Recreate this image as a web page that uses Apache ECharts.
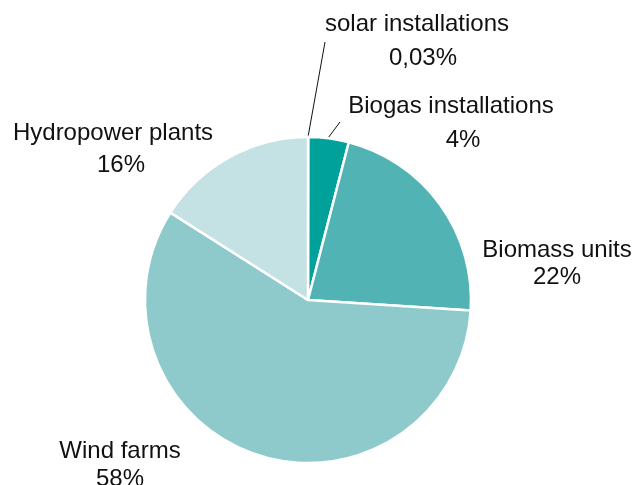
<!DOCTYPE html>
<html>
<head>
<meta charset="utf-8">
<script src="https://cdn.jsdelivr.net/npm/echarts@6/dist/echarts.min.js"></script>
<style>
  html, body { margin: 0; padding: 0; background: #fff; }
  #chart { width: 635px; height: 485px; }
</style>
</head>
<body>
<div id="chart"></div>
<script>
// Renewable generation mix by source (share, %)
const categories = ['solar installations', 'Biogas installations', 'Biomass units', 'Wind farms', 'Hydropower plants'];
const shares = [0.03, 4, 22, 58, 16];
const sliceColors = ['#007f7a', '#00a19b', '#52b3b4', '#8ecacb', '#c4e1e3'];

// Label placement (text block centres, same order as categories) and leader lines
const labelPos = [[417, 41], [451, 123], [557, 264], [120, 465], [113, 149]];
const labelLineHeights = [34, 34, 27, 28, 32];
const pctIndent = [12, 24, 0, 0, 16];
const leaderLines = {
  0: [[308, 137], [325, 42], [325, 42]],
  1: [[328, 138], [340, 122], [340, 122]]
};

const fmtPct = v => String(v).replace('.', ',') + '%';

const chart = echarts.init(document.getElementById('chart'), null, { renderer: 'canvas' });

const textStyle = {
  fontFamily: 'Liberation Sans, Arial, sans-serif',
  fontSize: 24,
  color: '#111'
};

chart.setOption({
  animation: false,
  series: [{
    type: 'pie',
    center: [308, 300],
    radius: 163,
    startAngle: 90,
    clockwise: true,
    avoidLabelOverlap: false,
    itemStyle: { borderColor: '#fff', borderWidth: 2.5 },
    label: {
      show: true,
      position: 'outside',
      formatter: p => '{n|' + p.name + '}\n{p|' + fmtPct(p.value) + '}',
      ...textStyle,
      align: 'center'
    },
    labelLine: { show: false, lineStyle: { color: '#111', width: 1 } },
    emphasis: { disabled: true },
    data: categories.map((name, i) => ({
      name: name,
      value: shares[i],
      itemStyle: { color: sliceColors[i] },
      label: {
        lineHeight: labelLineHeights[i],
        rich: {
          n: { ...textStyle, lineHeight: labelLineHeights[i] },
          p: { ...textStyle, lineHeight: labelLineHeights[i], padding: [0, 0, 0, pctIndent[i]] }
        }
      },
      labelLine: { show: i in leaderLines }
    })),
    labelLayout: function (params) {
      const i = params.dataIndex;
      const out = {
        x: labelPos[i][0],
        y: labelPos[i][1],
        align: 'center',
        verticalAlign: 'middle'
      };
      if (leaderLines[i]) out.labelLinePoints = leaderLines[i];
      return out;
    }
  }]
});
</script>
</body>
</html>
